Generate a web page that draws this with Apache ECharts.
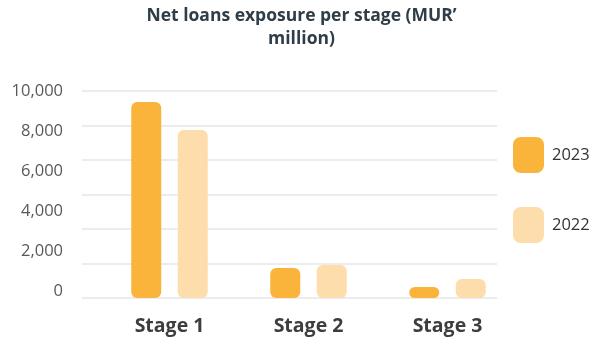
<!DOCTYPE html>
<html><head><meta charset="utf-8">
<script src="https://cdn.jsdelivr.net/npm/echarts@6/dist/echarts.min.js"></script>
<style>html,body{margin:0;padding:0;background:#fff}#c{width:603px;height:343px}</style>
</head><body><div id="c"></div>
<script>
var categories = ['Stage 1', 'Stage 2', 'Stage 3'];
var series2023 = [9800, 1500, 550];
var series2022 = [8400, 1650, 950];
var tickLabels = [0, 2000, 4000, 6000, 8000, 10000];
var seriesNames = ['2023', '2022'];
var titleText = 'Net loans exposure per stage (MUR’\nmillion)';

var FONT = '"Open Sans", sans-serif';
var C23 = '#FBB43B', C22 = '#FDDDAB';
var chart = echarts.init(document.getElementById('c'), null, {renderer: 'canvas'});
var scaleMax = 10350;
chart.setOption({
  animation: false,
  title: {text: titleText, left: 'center', top: 0,
    textStyle: {fontFamily: FONT, fontSize: 17.5, fontWeight: 'bold', color: '#2E3D47', lineHeight: 23}},
  legend: {orient: 'vertical', left: 508, top: 132, itemWidth: 31, itemHeight: 36, itemGap: 34,
    icon: 'roundRect', data: seriesNames,
    textStyle: {fontFamily: FONT, fontSize: 16.5, color: '#333', padding: [6, 0, 0, 3]}},
  grid: [
    {left: 82, top: 91, width: 415, height: 207},
    {left: 100, top: 91, width: 417, height: 207},
    {left: 71, top: 91.7, width: 10, height: 200}
  ],
  xAxis: [
    {gridIndex: 0, type: 'category', data: categories, show: true,
      axisLine: {show: false}, axisTick: {show: false}, axisLabel: {show: false}},
    {gridIndex: 1, type: 'category', data: categories,
      axisLine: {show: false}, axisTick: {show: false},
      axisLabel: {margin: 18, fontFamily: FONT, fontSize: 19.5, fontWeight: 'bold', color: '#3D3D3D'}},
    {gridIndex: 2, type: 'value', show: false}
  ],
  yAxis: [
    {gridIndex: 0, type: 'value', min: 0, max: scaleMax, interval: scaleMax / 6,
      axisLabel: {show: false}, axisLine: {show: false}, axisTick: {show: false},
      splitLine: {lineStyle: {color: '#E6E6E6', width: 1.5}}},
    {gridIndex: 1, type: 'value', min: 0, max: scaleMax, show: false},
    {gridIndex: 2, type: 'value', min: 0, max: 10000, interval: 2000,
      axisLine: {show: false}, axisTick: {show: false}, splitLine: {show: false},
      axisLabel: {margin: 8, fontFamily: FONT, fontSize: 16.5, color: '#595959',
        formatter: function (v) { return tickLabels.indexOf(v) >= 0 ? v.toLocaleString('en-US') : ''; }}}
  ],
  series: [
    {name: seriesNames[0], type: 'bar', xAxisIndex: 1, yAxisIndex: 1, data: series2023,
      barWidth: 30, barGap: '55%', itemStyle: {color: C23, borderRadius: 6}},
    {name: seriesNames[1], type: 'bar', xAxisIndex: 1, yAxisIndex: 1, data: series2022,
      barWidth: 30, itemStyle: {color: C22, borderRadius: 6}}
  ]
});
</script></body></html>
